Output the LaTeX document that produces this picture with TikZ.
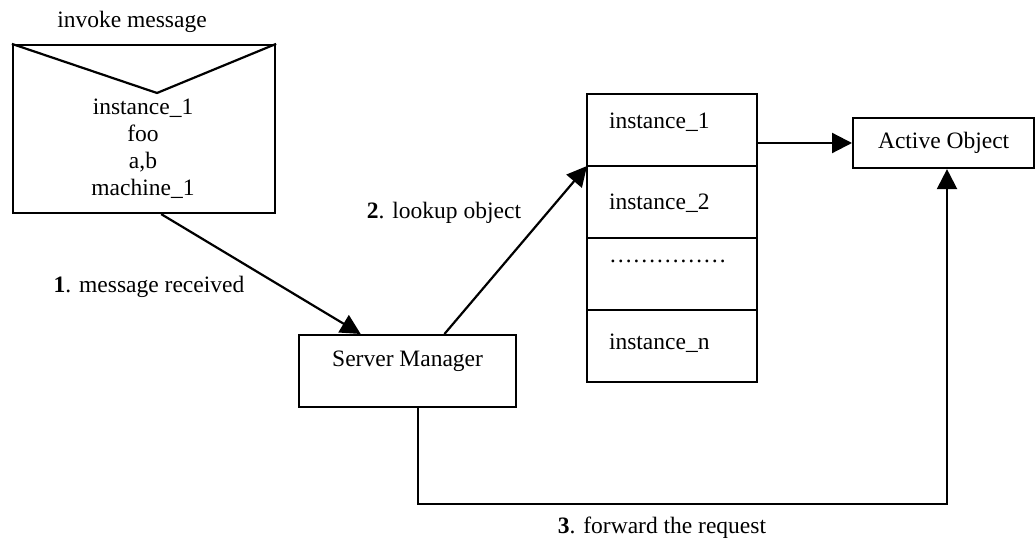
\documentclass[tikz,border=0pt]{standalone}
\usepackage{fontspec}
\setmainfont{Liberation Serif}
\usetikzlibrary{arrows.meta,calc}
\tikzset{
  box/.style={draw, line width=1.1pt, inner sep=0pt},
  cell/.style={box, anchor=north west, outer sep=0pt, minimum width=85pt, minimum height=36pt,
               text width=63pt, inner xsep=11pt, inner ysep=0pt, align=left},
  link/.style={line width=1.1pt, -{Triangle[length=10pt,width=10pt]}},
  lbl/.style={inner sep=0pt},
}
\begin{document}
\begin{tikzpicture}[x=0.5pt, y=-0.5pt, font=\fontsize{11.75}{13.5}\selectfont]
\useasboundingbox (0,0) rectangle (1036,539);
\clip (0,0) rectangle (1036,539);

% message envelope
\node[lbl] (title) at (132,22) {invoke message};
\node[box, minimum width=131pt, minimum height=84pt] (env) at (144,129) {};
\coordinate (flap) at (157,93);
\draw[line width=1.1pt] (env.north west) -- (flap) -- (env.north east);
\node[lbl, align=center] (msg) at (143,149) {instance\_1\\foo\\a,b\\machine\_1};

% server manager
\node[box, anchor=north west, minimum width=108.5pt, minimum height=36pt,
      text height=15.5pt, text depth=20.5pt] (sm) at (298,334) {Server Manager};

% instance table
\node[cell, text height=17.5pt, text depth=18.5pt] (c1) at (587,94) {instance\_1};
\node[cell, text height=22pt, text depth=14pt] (c2) at (c1.south west) {instance\_2};
\node[cell, text height=12.5pt, text depth=23.5pt] (c3) at (c2.south west) {……………};
\node[cell, text height=19.5pt, text depth=16.5pt] (c4) at (c3.south west) {instance\_n};

% active object
\node[box, anchor=west, minimum width=90.5pt, minimum height=25pt] (ao) at (852,143) {Active Object};

% connectors
\draw[link] ($(env.south west)!0.565!(env.south east)$) -- ($(sm.north west)!0.286!(sm.north east)$);
\draw[link] ($(sm.north west)!0.668!(sm.north east)$) -- (c1.south west);
\draw[link] (ao.west -| c1.east) -- (ao.west);
\coordinate (turn) at (947,504);
\draw[link] ($(sm.south west)!0.548!(sm.south east)$) |- (turn) -- (turn |- ao.south);

% step labels
\node[lbl] (l1) at (149,287) {\textbf{1}. message received};
\node[lbl] (l2) at (444,213) {\textbf{2}. lookup object};
\node[lbl] (l3) at (662,528) {\textbf{3}. forward the request};
\end{tikzpicture}
\end{document}
